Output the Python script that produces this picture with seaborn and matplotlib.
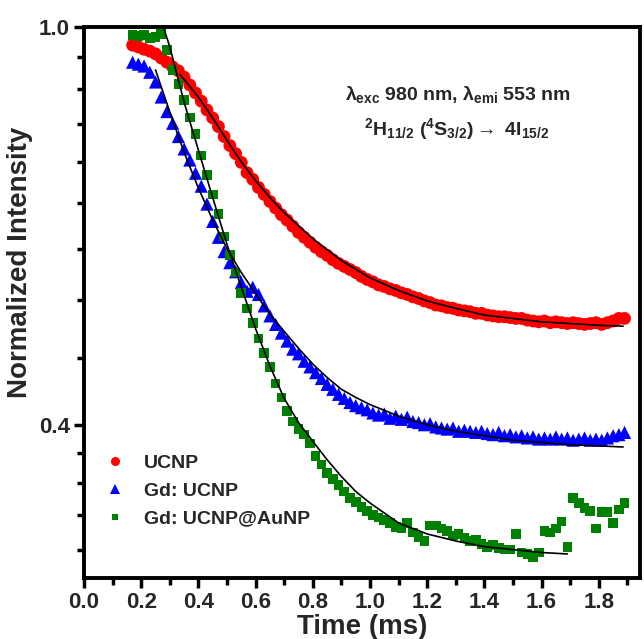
import pandas as pd
import matplotlib
matplotlib.use("Agg")
import matplotlib.pyplot as plt
from matplotlib.ticker import FixedLocator, NullFormatter
import seaborn as sns

# sample names, in drawing order
samples = ["UCNP", "Gd: UCNP", "Gd: UCNP@AuNP"]

# time grid of the decay traces (ms)
time_ms = [
    0.17, 0.19, 0.21, 0.23, 0.25, 0.27, 0.29, 0.31, 0.33, 0.35,
    0.37, 0.39, 0.41, 0.43, 0.45, 0.47, 0.49, 0.51, 0.53, 0.55,
    0.57, 0.59, 0.61, 0.63, 0.65, 0.67, 0.69, 0.71, 0.73, 0.75,
    0.77, 0.79, 0.81, 0.83, 0.85, 0.87, 0.89, 0.91, 0.93, 0.95,
    0.97, 0.99, 1.01, 1.03, 1.05, 1.07, 1.09, 1.11, 1.13, 1.15,
    1.17, 1.19, 1.21, 1.23, 1.25, 1.27, 1.29, 1.31, 1.33, 1.35,
    1.37, 1.39, 1.41, 1.43, 1.45, 1.47, 1.49, 1.51, 1.53, 1.55,
    1.57, 1.59, 1.61, 1.63, 1.65, 1.67, 1.69, 1.71, 1.73, 1.75,
    1.77, 1.79, 1.81, 1.83, 1.85, 1.87, 1.89,
]

ucnp = [
    0.959, 0.955, 0.950, 0.946, 0.940, 0.931, 0.922, 0.912, 0.904, 0.891,
    0.875, 0.859, 0.843, 0.826, 0.811, 0.795, 0.777, 0.761, 0.747, 0.732,
    0.715, 0.704, 0.691, 0.680, 0.669, 0.659, 0.649, 0.641, 0.632, 0.623,
    0.616, 0.609, 0.602, 0.596, 0.591, 0.585, 0.580, 0.576, 0.572, 0.568,
    0.563, 0.559, 0.556, 0.552, 0.550, 0.547, 0.545, 0.542, 0.540, 0.537,
    0.535, 0.532, 0.530, 0.527, 0.526, 0.524, 0.523, 0.521, 0.520, 0.519,
    0.517, 0.517, 0.515, 0.514, 0.513, 0.513, 0.512, 0.511, 0.511, 0.509,
    0.508, 0.507, 0.508, 0.506, 0.507, 0.506, 0.505, 0.506, 0.505, 0.504,
    0.505, 0.506, 0.504, 0.506, 0.508, 0.511, 0.511,
]

gd_ucnp = [
    0.922, 0.918, 0.914, 0.901, 0.881, 0.851, 0.823, 0.801, 0.777, 0.755,
    0.736, 0.714, 0.693, 0.665, 0.639, 0.616, 0.596, 0.581, 0.569, 0.555,
    0.544, 0.549, 0.540, 0.526, 0.514, 0.504, 0.494, 0.485, 0.476, 0.471,
    0.463, 0.457, 0.451, 0.445, 0.439, 0.434, 0.429, 0.425, 0.421, 0.418,
    0.416, 0.414, 0.411, 0.409, 0.410, 0.406, 0.408, 0.405, 0.407, 0.403,
    0.402, 0.400, 0.401, 0.398, 0.397, 0.396, 0.397, 0.394, 0.395, 0.394,
    0.393, 0.394, 0.392, 0.391, 0.393, 0.390, 0.391, 0.389, 0.390, 0.388,
    0.389, 0.387, 0.388, 0.387, 0.389, 0.387, 0.388, 0.386, 0.387, 0.388,
    0.386, 0.387, 0.386, 0.388, 0.390, 0.391, 0.393,
]

gd_ucnp_aunp = [
    0.982, 0.979, 0.982, 0.975, 0.977, 0.984, 0.948, 0.906, 0.877, 0.845,
    0.812, 0.781, 0.744, 0.711, 0.680, 0.650, 0.617, 0.591, 0.568, 0.542,
    0.523, 0.506, 0.488, 0.472, 0.457, 0.440, 0.426, 0.413, 0.403, 0.396,
    0.391, 0.383, 0.372, 0.365, 0.358, 0.353, 0.348, 0.343, 0.338, 0.335,
    0.331, 0.328, 0.325, 0.323, 0.321, 0.319, 0.316, 0.315, 0.319, 0.312,
    0.309, 0.306, 0.317, 0.317, 0.315, 0.313, 0.310, 0.311, 0.308, 0.306,
    0.307, 0.304, 0.302, 0.303, 0.301, 0.300, 0.300, 0.311, 0.298, 0.297,
    0.295, 0.298, 0.313, 0.312, 0.315, 0.320, 0.302, 0.338, 0.334, 0.330,
    0.328, 0.315, 0.327, 0.327, 0.319, 0.329, 0.334,
]

# fitted decay curves
ucnp_fit_t = [0.335, 0.4, 0.45, 0.5, 0.55, 0.6, 0.65, 0.7, 0.8, 0.9, 1.0,
              1.1, 1.2, 1.3, 1.4, 1.5, 1.6, 1.7, 1.8, 1.885]
ucnp_fit = [0.897, 0.851, 0.811, 0.770, 0.733, 0.702, 0.675, 0.652, 0.614,
            0.584, 0.561, 0.545, 0.532, 0.523, 0.515, 0.511, 0.507, 0.505,
            0.503, 0.502]

gd_fit_t = [0.25, 0.3, 0.35, 0.4, 0.45, 0.5, 0.55, 0.6, 0.65, 0.7, 0.75,
            0.8, 0.85, 0.9, 0.95, 1.0, 1.1, 1.2, 1.3, 1.4, 1.5, 1.6, 1.7,
            1.8, 1.885]
gd_fit = [0.906, 0.822, 0.749, 0.690, 0.641, 0.600, 0.568, 0.541, 0.516,
          0.496, 0.477, 0.460, 0.446, 0.434, 0.426, 0.419, 0.408, 0.400,
          0.394, 0.390, 0.386, 0.384, 0.382, 0.381, 0.380]

au_fit_t = [0.27, 0.3, 0.35, 0.4, 0.45, 0.5, 0.55, 0.6, 0.65, 0.7, 0.75,
            0.8, 0.85, 0.9, 0.95, 1.0, 1.1, 1.2, 1.3, 1.4, 1.5, 1.6, 1.69]
au_fit = [1.016, 0.955, 0.841, 0.753, 0.675, 0.606, 0.549, 0.499, 0.458,
          0.425, 0.402, 0.385, 0.369, 0.355, 0.343, 0.334, 0.319, 0.311,
          0.306, 0.302, 0.300, 0.298, 0.297]

y_major = [0.4, 1.0]
y_major_labels = ["0.4", "1.0"]
y_minor = [0.3, 0.325, 0.35, 0.375, 0.4667, 0.5333, 0.6, 0.6667, 0.7333,
           0.8, 0.8667, 0.9333]
x_major = [0.0, 0.2, 0.4, 0.6, 0.8, 1.0, 1.2, 1.4, 1.6, 1.8]
x_minor = [0.1, 0.3, 0.5, 0.7, 0.9, 1.1, 1.3, 1.5, 1.7, 1.9]


def _build_frames():
    """Long-format tables for the measured points and the fit curves."""
    points = pd.concat([
        pd.DataFrame({"t": time_ms, "v": vals, "sample": name})
        for name, vals in zip(samples, [ucnp, gd_ucnp, gd_ucnp_aunp])
    ], ignore_index=True)
    fits = pd.concat([
        pd.DataFrame({"t": ft, "v": fv, "sample": name})
        for name, ft, fv in zip(samples, [ucnp_fit_t, gd_fit_t, au_fit_t],
                                [ucnp_fit, gd_fit, au_fit])
    ], ignore_index=True)
    return points, fits


sns.set_theme(style="ticks")
plt.rcParams["font.family"] = ["Liberation Sans", "DejaVu Sans"]
plt.rcParams["font.weight"] = "bold"
plt.rcParams["mathtext.fontset"] = "custom"
plt.rcParams["mathtext.rm"] = "Liberation Sans:bold"
plt.rcParams["mathtext.it"] = "Liberation Sans"
plt.rcParams["mathtext.bf"] = "Liberation Sans:bold"

points, fits = _build_frames()

fig = plt.figure(figsize=(6.44, 6.39), dpi=100)
ax = fig.add_axes([84 / 644, 1 - 578 / 639, 556 / 644, 551 / 639])

sizes = {"UCNP": 85, "Gd: UCNP": 90, "Gd: UCNP@AuNP": 48}
sns.scatterplot(
    data=points, x="t", y="v", hue="sample", style="sample",
    hue_order=samples, style_order=samples,
    palette={"UCNP": "#ff0000", "Gd: UCNP": "#0000ff",
             "Gd: UCNP@AuNP": "#008000"},
    markers={"UCNP": "o", "Gd: UCNP": "^", "Gd: UCNP@AuNP": "s"},
    size="sample", sizes=sizes, linewidth=0, ax=ax,
)
sns.lineplot(
    data=fits, x="t", y="v", units="sample", estimator=None, sort=False,
    color="black", lw=1.2, legend=False, ax=ax,
)

ax.set_yscale("log")
ax.set_xlim(0, 1.944)
ax.set_ylim(0.281, 1.0)
ax.yaxis.set_major_locator(FixedLocator(y_major))
ax.yaxis.set_minor_locator(FixedLocator(y_minor))
ax.yaxis.set_minor_formatter(NullFormatter())
ax.set_yticks(y_major, labels=y_major_labels, fontsize=16, fontweight="bold")
ax.set_xticks(x_major, labels=[f"{x:.1f}" for x in x_major], fontsize=16,
              fontweight="bold")
ax.set_xticks(x_minor, minor=True)

for side in ["top", "right", "bottom", "left"]:
    ax.spines[side].set_linewidth(2.8)
    ax.spines[side].set_color("black")
ax.tick_params(which="major", direction="out", length=7, width=2.5,
               pad=3, color="black")
ax.tick_params(which="minor", direction="out", length=5, width=2.5,
               color="black")

ax.set_xlabel("Time (ms)", fontsize=20, fontweight="bold", labelpad=1)
ax.set_ylabel("Normalized Intensity", fontsize=20, fontweight="bold")
ax.yaxis.set_label_coords(-0.092, 0.572)

handles, labels = ax.get_legend_handles_labels()
leg = ax.legend(handles, labels, loc="upper left",
                bbox_to_anchor=(0.02, 0.242), frameon=False,
                handlelength=1.0, handletextpad=1.0, labelspacing=0.52,
                borderpad=0, prop={"weight": "bold", "size": 14})
for h, name in zip(leg.legend_handles, labels):
    h.set_markersize(5.0 if name == "Gd: UCNP@AuNP" else 6.5)

ax.text(0.672, 0.877, r"$\lambda_{exc}$ 980 nm, $\lambda_{emi}$ 553 nm",
        transform=ax.transAxes, ha="center", va="center", fontsize=14,
        fontweight="bold")
ax.text(0.671, 0.815,
        r"$^{2}$H$_{11/2}$ ($^{4}$S$_{3/2}$)$\rightarrow$ 4I$_{15/2}$",
        transform=ax.transAxes, ha="center", va="center", fontsize=14,
        fontweight="bold")

fig.savefig("out.png", dpi=100)
